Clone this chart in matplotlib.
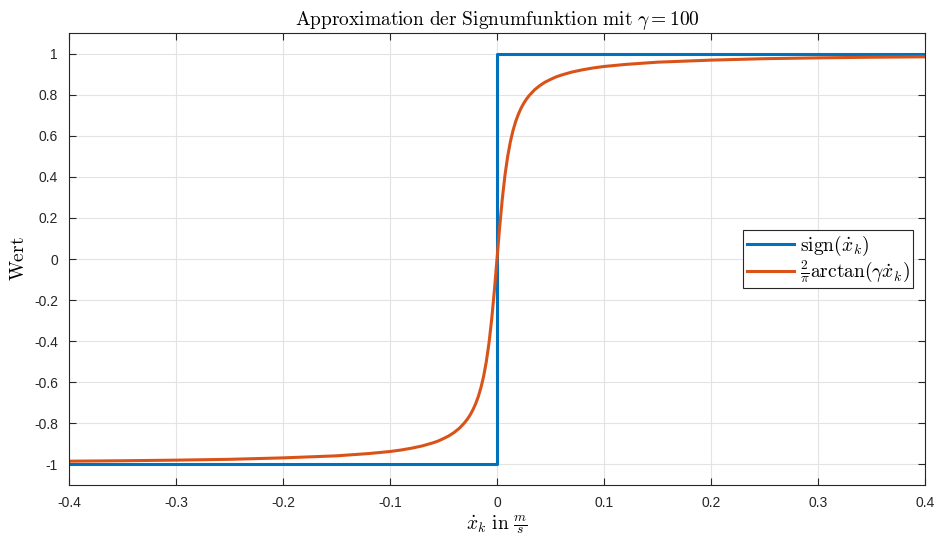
import matplotlib
matplotlib.use('Agg')
from matplotlib import pyplot as plt

plt.rcParams['mathtext.fontset'] = 'cm'
plt.rcParams['font.family'] = ['Liberation Sans', 'DejaVu Sans']
plt.rcParams['axes.unicode_minus'] = False

# sign curve
sign_x = [-0.4, 0.0, 0.0, 0.4]
sign_y = [-1.0, -1.0, 1.0, 1.0]

# arctan approximation, values
atan_x = [-0.4, -0.35, -0.3, -0.25, -0.2, -0.15, -0.12, -0.1, -0.09, -0.08,
          -0.07, -0.06, -0.055, -0.05, -0.045, -0.04, -0.035, -0.03, -0.0275,
          -0.025, -0.0225, -0.02, -0.0175, -0.015, -0.0125, -0.01, -0.0075,
          -0.005, -0.0025, 0.0,
          0.0025, 0.005, 0.0075, 0.01, 0.0125, 0.015, 0.0175, 0.02, 0.0225,
          0.025, 0.0275, 0.03, 0.035, 0.04, 0.045, 0.05, 0.055, 0.06, 0.07,
          0.08, 0.09, 0.1, 0.12, 0.15, 0.2, 0.25, 0.3, 0.35, 0.4]
atan_y = [-0.984, -0.982, -0.979, -0.975, -0.968, -0.958, -0.947, -0.937,
          -0.930, -0.921, -0.910, -0.895, -0.886, -0.874, -0.861, -0.844,
          -0.823, -0.795, -0.778, -0.758, -0.734, -0.705, -0.670, -0.626,
          -0.571, -0.5, -0.410, -0.295, -0.156, 0.0,
          0.156, 0.295, 0.410, 0.5, 0.571, 0.626, 0.670, 0.705, 0.734,
          0.758, 0.778, 0.795, 0.823, 0.844, 0.861, 0.874, 0.886, 0.895, 0.910,
          0.921, 0.930, 0.937, 0.947, 0.958, 0.968, 0.975, 0.979, 0.982, 0.984]

xticks = [-0.4, -0.3, -0.2, -0.1, 0, 0.1, 0.2, 0.3, 0.4]
xlabels = ['-0.4', '-0.3', '-0.2', '-0.1', '0', '0.1', '0.2', '0.3', '0.4']
yticks = [-1, -0.8, -0.6, -0.4, -0.2, 0, 0.2, 0.4, 0.6, 0.8, 1]
ylabels = ['-1', '-0.8', '-0.6', '-0.4', '-0.2', '0', '0.2', '0.4', '0.6', '0.8', '1']

fig = plt.figure(figsize=(9.35, 5.39), dpi=100)
ax = fig.add_axes([69 / 935, 1 - 485 / 539, 856 / 935, 452 / 539])

ax.plot(sign_x, sign_y, color='#0072BD', lw=2.2, label=r'$\mathrm{sign}(\dot{x}_k)$')
ax.plot(atan_x, atan_y, color='#D95319', lw=2.2, solid_joinstyle='round',
        label=r'$\frac{2}{\pi}\mathrm{arctan}(\gamma\dot{x}_k)$')

ax.set_xlim(-0.4, 0.4)
ax.set_ylim(-1.1, 1.1)
ax.set_xticks(xticks)
ax.set_xticklabels(xlabels)
ax.set_yticks(yticks)
ax.set_yticklabels(ylabels)
ax.grid(True, color='#e3e3e3', lw=0.8)
ax.set_axisbelow(True)
ax.tick_params(direction='in', length=5, width=0.8, colors='#262626',
               labelsize=10, top=True, right=True, pad=8)
for s in ax.spines.values():
    s.set_color('#262626')
    s.set_linewidth(0.8)

ax.set_title(r'$\mathrm{Approximation\ der\ Signumfunktion\ mit\ }\gamma = 100$',
             fontsize=14, pad=6)
ax.set_xlabel(r'$\dot{x}_k\ \mathrm{in}\ \frac{m}{s}$', fontsize=14, labelpad=2)
ax.set_ylabel(r'$\mathrm{Wert}$', fontsize=14, labelpad=4)

leg = ax.legend(loc='center right', bbox_to_anchor=(0.991, 0.5), fontsize=14,
                fancybox=False, framealpha=1, edgecolor='#262626',
                handlelength=2.4, borderpad=0.2, labelspacing=0.05,
                handletextpad=0.3, borderaxespad=0.2)
leg.get_frame().set_linewidth(0.8)

fig.savefig('out.png', dpi=100)
